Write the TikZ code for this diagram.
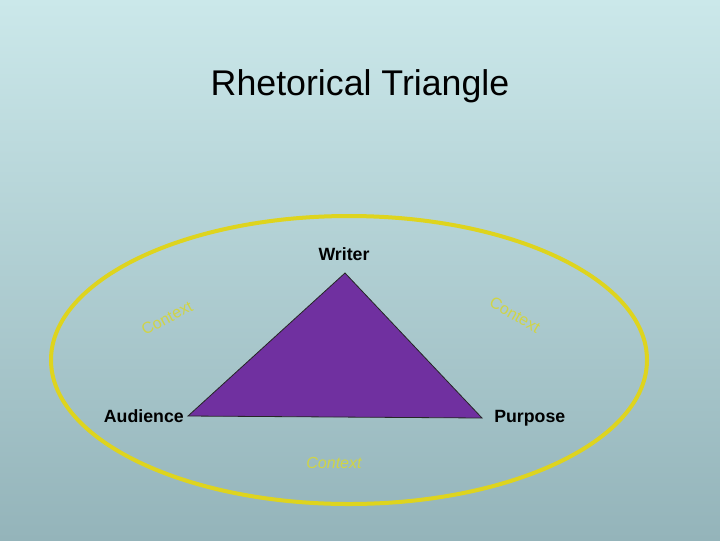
\documentclass[tikz,border=0pt]{standalone}
\usepackage{fontspec}
\setmainfont{Liberation Sans}
\definecolor{bgtop}{RGB}{203,232,234}
\definecolor{bgbot}{RGB}{148,180,186}
\definecolor{ringcol}{RGB}{222,212,30}
\definecolor{ctxcol}{RGB}{208,212,70}
\definecolor{triviolet}{RGB}{112,48,160}
\tikzset{
  lbl/.style={font=\fontsize{13.3}{15}\selectfont\bfseries, text=black, inner sep=0pt},
  ctx/.style={font=\fontsize{12}{14}\selectfont, text=ctxcol, inner sep=0pt},
}
\begin{document}
\begin{tikzpicture}[x=0.75pt,y=-0.75pt]
\useasboundingbox (0,0) rectangle (720,540);
\shade[top color=bgtop, bottom color=bgbot] (0,0) rectangle (720,540);
% title
\node[font=\fontsize{26.8}{30}\selectfont, inner sep=0pt] (title) at (360,86) {Rhetorical Triangle};
% context ring
\draw[ringcol, line width=3pt] (349,360) ellipse [x radius=298, y radius=144];
% triangle
\coordinate (W) at (345,273);
\coordinate (A) at (188,416);
\coordinate (P) at (482,418);
\filldraw[fill=triviolet, draw=black!85, line width=0.6pt, line join=miter] (W) -- (P) -- (A) -- cycle;
% labels
\node[lbl, anchor=base] (writer) at (344,260) {Writer};
\node[lbl, anchor=base east] (audience) at (184,422) {Audience};
\node[lbl, anchor=base west] (purpose) at (494,422) {Purpose};
% context labels
\node[ctx, rotate=28] (ctxl) at (167,318) {Context};
\node[ctx, rotate=-30] (ctxr) at (515,315) {Context};
\node[ctx, font=\fontsize{12}{14}\selectfont\itshape] (ctxb) at (334,463) {Context};
\end{tikzpicture}
\end{document}
